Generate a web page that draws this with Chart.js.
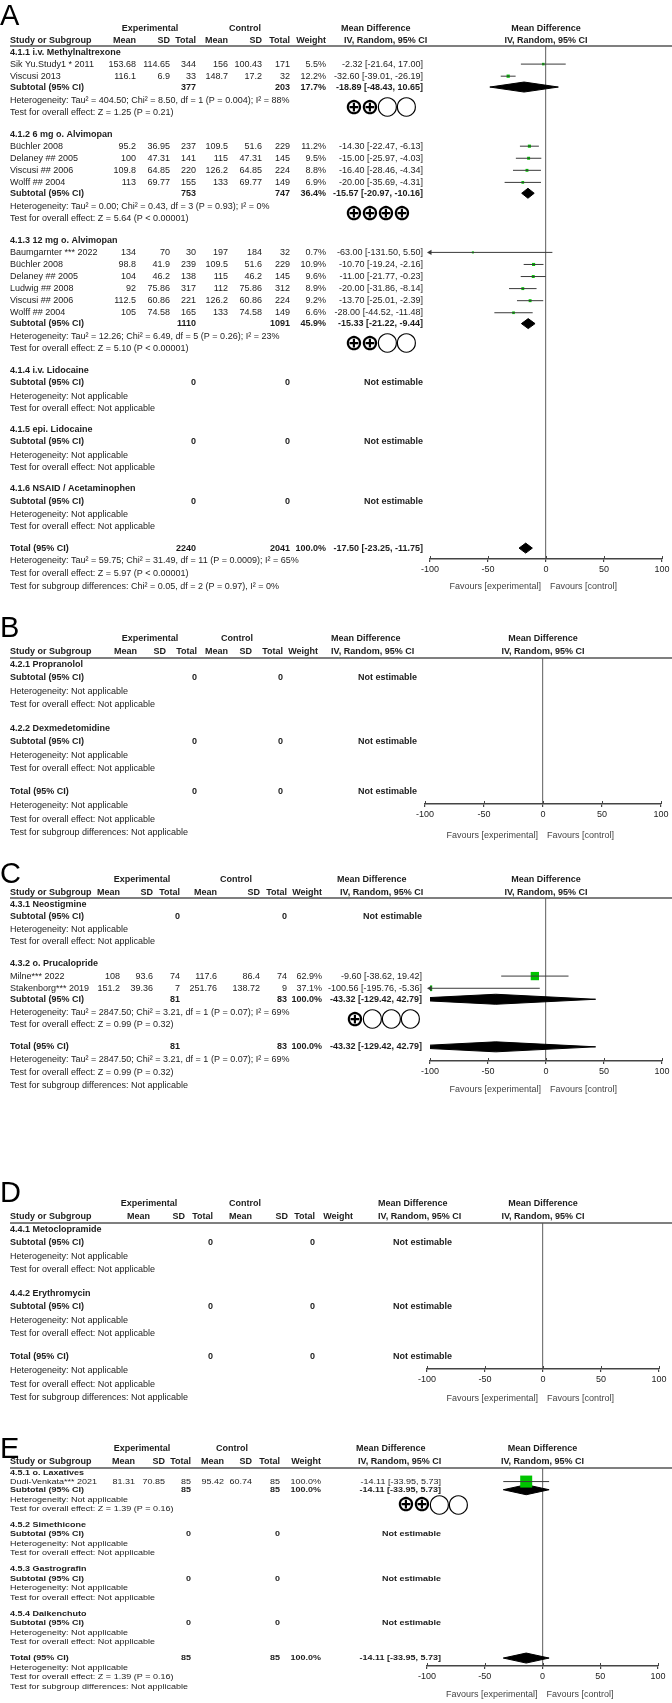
<!DOCTYPE html>
<html>
<head>
<meta charset="utf-8">
<script src="https://cdn.jsdelivr.net/npm/chart.js@4.4.1/dist/chart.umd.min.js"></script>
<style>
  body { margin: 0; background: #fff; }
  #page { position: relative; width: 672px; height: 1703px; overflow: hidden; }
  #page canvas { position: absolute; left: 0; }
</style>
</head>
<body>
<div id="page"></div>
<script>
// axis of every forest plot
const xTicks = [-100, -50, 0, 50, 100];
const favours = ['Favours [experimental]', 'Favours [control]'];
const colHeads = ['Mean', 'SD', 'Total', 'Mean', 'SD', 'Total', 'Weight'];
const panelIds = ['A', 'B', 'C', 'D', 'E'];

// subgroups
const groupPanel = ['A', 'A', 'A', 'A', 'A', 'A', 'B', 'B', 'C', 'C', 'D', 'D', 'E', 'E', 'E', 'E'];
const groupName = ['4.1.1 i.v. Methylnaltrexone', '4.1.2 6 mg o. Alvimopan', '4.1.3 12 mg o. Alvimopan',
  '4.1.4 i.v. Lidocaine', '4.1.5 epi. Lidocaine', '4.1.6 NSAID / Acetaminophen',
  '4.2.1 Propranolol', '4.2.2 Dexmedetomidine', '4.3.1 Neostigmine', '4.3.2 o. Prucalopride',
  '4.4.1 Metoclopramide', '4.4.2 Erythromycin', '4.5.1 o. Laxatives', '4.5.2 Simethicone',
  '4.5.3 Gastrografin', '4.5.4 Daikenchuto'];
const groupExpN = [377, 753, 1110, 0, 0, 0, 0, 0, 0, 81, 0, 0, 85, 0, 0, 0];
const groupCtlN = [203, 747, 1091, 0, 0, 0, 0, 0, 0, 83, 0, 0, 85, 0, 0, 0];
const groupWeight = [17.7, 36.4, 45.9, null, null, null, null, null, null, 100.0, null, null, 100.0, null, null, null];
const groupMD = [-18.89, -15.57, -15.33, null, null, null, null, null, null, -43.32, null, null, -14.11, null, null, null];
const groupLo = [-48.43, -20.97, -21.22, null, null, null, null, null, null, -129.42, null, null, -33.95, null, null, null];
const groupHi = [10.65, -10.16, -9.44, null, null, null, null, null, null, 42.79, null, null, 5.73, null, null, null];
const NA_HET = 'Heterogeneity: Not applicable';
const NA_EFF = 'Test for overall effect: Not applicable';
const groupHet = [
  'Heterogeneity: Tau² = 404.50; Chi² = 8.50, df = 1 (P = 0.004); I² = 88%',
  'Heterogeneity: Tau² = 0.00; Chi² = 0.43, df = 3 (P = 0.93); I² = 0%',
  'Heterogeneity: Tau² = 12.26; Chi² = 6.49, df = 5 (P = 0.26); I² = 23%',
  NA_HET, NA_HET, NA_HET, NA_HET, NA_HET, NA_HET,
  'Heterogeneity: Tau² = 2847.50; Chi² = 3.21, df = 1 (P = 0.07); I² = 69%',
  NA_HET, NA_HET, NA_HET, NA_HET, NA_HET, NA_HET];
const groupEffect = [
  'Test for overall effect: Z = 1.25 (P = 0.21)',
  'Test for overall effect: Z = 5.64 (P < 0.00001)',
  'Test for overall effect: Z = 5.10 (P < 0.00001)',
  NA_EFF, NA_EFF, NA_EFF, NA_EFF, NA_EFF, NA_EFF,
  'Test for overall effect: Z = 0.99 (P = 0.32)',
  NA_EFF, NA_EFF,
  'Test for overall effect: Z = 1.39 (P = 0.16)',
  NA_EFF, NA_EFF, NA_EFF];
const groupGrade = ['⊕⊕◯◯', '⊕⊕⊕⊕', '⊕⊕◯◯', '', '', '', '', '', '', '⊕◯◯◯', '', '', '⊕⊕◯◯', '', '', ''];

// studies
const studyGroup = [0, 0, 1, 1, 1, 1, 2, 2, 2, 2, 2, 2, 9, 9, 12];
const studyName = ['Sik Yu.Study1 * 2011', 'Viscusi 2013', 'Büchler 2008', 'Delaney ## 2005', 'Viscusi ## 2006',
  'Wolff ## 2004', 'Baumgarnter *** 2022', 'Büchler 2008', 'Delaney ## 2005', 'Ludwig ## 2008',
  'Viscusi ## 2006', 'Wolff ## 2004', 'Milne*** 2022', 'Stakenborg*** 2019', 'Dudi-Venkata*** 2021'];
const expMean = [153.68, 116.1, 95.2, 100, 109.8, 113, 134, 98.8, 104, 92, 112.5, 105, 108, 151.2, 81.31];
const expSD = [114.65, 6.9, 36.95, 47.31, 64.85, 69.77, 70, 41.9, 46.2, 75.86, 60.86, 74.58, 93.6, 39.36, 70.85];
const expN = [344, 33, 237, 141, 220, 155, 30, 239, 138, 317, 221, 165, 74, 7, 85];
const ctlMean = [156, 148.7, 109.5, 115, 126.2, 133, 197, 109.5, 115, 112, 126.2, 133, 117.6, 251.76, 95.42];
const ctlSD = [100.43, 17.2, 51.6, 47.31, 64.85, 69.77, 184, 51.6, 46.2, 75.86, 60.86, 74.58, 86.4, 138.72, 60.74];
const ctlN = [171, 32, 229, 145, 224, 149, 32, 229, 145, 312, 224, 149, 74, 9, 85];
const studyWeight = [5.5, 12.2, 11.2, 9.5, 8.8, 6.9, 0.7, 10.9, 9.6, 8.9, 9.2, 6.6, 62.9, 37.1, 100.0];
const studyMD = [-2.32, -32.60, -14.30, -15.00, -16.40, -20.00, -63.00, -10.70, -11.00, -20.00, -13.70, -28.00, -9.60, -100.56, -14.11];
const studyLo = [-21.64, -39.01, -22.47, -25.97, -28.46, -35.69, -131.50, -19.24, -21.77, -31.86, -25.01, -44.52, -38.62, -195.76, -33.95];
const studyHi = [17.00, -26.19, -6.13, -4.03, -4.34, -4.31, 5.50, -2.16, -0.23, -8.14, -2.39, -11.48, 19.42, -5.36, 5.73];

// overall totals, one per panel
const totalExpN = [2240, 0, 81, 0, 85];
const totalCtlN = [2041, 0, 83, 0, 85];
const totalWeight = [100.0, null, 100.0, null, 100.0];
const totalMD = [-17.50, null, -43.32, null, -14.11];
const totalLo = [-23.25, null, -129.42, null, -33.95];
const totalHi = [-11.75, null, 42.79, null, 5.73];
const totalHet = ['Heterogeneity: Tau² = 59.75; Chi² = 31.49, df = 11 (P = 0.0009); I² = 65%', NA_HET,
  'Heterogeneity: Tau² = 2847.50; Chi² = 3.21, df = 1 (P = 0.07); I² = 69%', NA_HET, NA_HET];
const totalEffect = ['Test for overall effect: Z = 5.97 (P < 0.00001)', NA_EFF,
  'Test for overall effect: Z = 0.99 (P = 0.32)', NA_EFF, 'Test for overall effect: Z = 1.39 (P = 0.16)'];
const subgroupTest = ['Test for subgroup differences: Chi² = 0.05, df = 2 (P = 0.97), I² = 0%',
  'Test for subgroup differences: Not applicable', 'Test for subgroup differences: Not applicable',
  'Test for subgroup differences: Not applicable', 'Test for subgroup differences: Not applicable'];

// page geometry of each panel (page pixels); sy squashes row text where rows are tight
const layout = {
  A: {top: 0, h: 600, letter: 25, exp: 29, head: 41, line: 46, axis: 559, fav: 587, unit: 12.07, sy: 1,
      cols: [136, 170, 196, 228, 262, 290, 326], expX: 150, ctlX: 245, ciRight: 423, mdX: 341, ivX: 344,
      x0: 430, x1: 662, gradeX: 346},
  B: {top: 600, h: 250, letter: 637, exp: 639, head: 652, line: 658, axis: 804, fav: 836, unit: 13.0, sy: 1,
      cols: [137, 166, 197, 228, 252, 283, 318], expX: 150, ctlX: 237, ciRight: 417, mdX: 331, ivX: 331,
      x0: 425, x1: 661, gradeX: 346},
  C: {top: 850, h: 300, letter: 883, exp: 880, head: 893, line: 898, axis: 1061, fav: 1090, unit: 12.2, sy: 1,
      cols: [120, 153, 180, 217, 260, 287, 322], expX: 142, ctlX: 236, ciRight: 422, mdX: 337, ivX: 340,
      x0: 430, x1: 662, gradeX: 347},
  D: {top: 1150, h: 260, letter: 1202, exp: 1204, head: 1217, line: 1223, axis: 1369, fav: 1399, unit: 13.0, sy: 1,
      cols: [150, 185, 213, 252, 288, 315, 353], expX: 149, ctlX: 245, ciRight: 452, mdX: 378, ivX: 378,
      x0: 427, x1: 659, gradeX: 380},
  E: {top: 1410, h: 293, letter: 1458, exp: 1449, head: 1462, line: 1468, axis: 1666, fav: 1695, unit: 9.05, sy: 0.85,
      cols: [135, 165, 191, 224, 252, 280, 321], expX: 142, ctlX: 232, ciRight: 441, mdX: 356, ivX: 358,
      x0: 427, x1: 658, gradeX: 398}
};

const FONT = '"Liberation Sans", Arial, Helvetica, sans-serif';
const INK = '#1c1c1c';

function ciText(md, lo, hi) {
  return md.toFixed(2) + ' [' + lo.toFixed(2) + ', ' + hi.toFixed(2) + ']';
}

// row positions in line units, walking down the table
function buildRows(pid) {
  const rows = [];
  let y = 0.5;
  const groups = groupPanel.map((p, i) => p === pid ? i : -1).filter(i => i >= 0);
  groups.forEach((g, k) => {
    if (k > 0) y += 1.8;
    rows.push({kind: 'group', g: g, y: y});
    const studies = studyGroup.map((sg, i) => sg === g ? i : -1).filter(i => i >= 0);
    studies.forEach(s => { y += 1; rows.push({kind: 'study', s: s, y: y}); });
    y += studies.length ? 0.9 : 1;
    rows.push({kind: 'subtotal', g: g, y: y});
    y += 1.1;
    rows.push({kind: 'note', text: groupHet[g], y: y});
    if (groupGrade[g]) rows.push({kind: 'grade', text: groupGrade[g], y: y + 0.55});
    y += 1;
    rows.push({kind: 'note', text: groupEffect[g], y: y});
  });
  y += 1.8;
  const p = panelIds.indexOf(pid);
  rows.push({kind: 'total', p: p, y: y});
  rows.push({kind: 'note', text: totalHet[p], y: y + 1.05});
  rows.push({kind: 'note', text: totalEffect[p], y: y + 2.1});
  rows.push({kind: 'note', text: subgroupTest[p], y: y + 3.15});
  return rows;
}

let squash = 1;
function txt(ctx, s, x, y, align, bold, size) {
  ctx.font = (bold ? 'bold ' : '') + (size || 9) + 'px ' + FONT;
  ctx.textAlign = align || 'left';
  if (squash === 1) { ctx.fillText(s, x, y); return; }
  ctx.save();
  ctx.translate(x, y);
  ctx.scale(1, squash);
  ctx.fillText(s, 0, 0);
  ctx.restore();
}

function tablePlugin(pid, rows) {
  return {
    id: 'table' + pid,
    afterDraw(chart) {
      const L = layout[pid];
      const ctx = chart.ctx;
      const ys = chart.scales.y, xs = chart.scales.x;
      const off = L.top;
      const zero = xs.getPixelForValue(0);
      const top = chart.chartArea.top, bottom = chart.chartArea.bottom;
      squash = 1;
      ctx.save();
      ctx.fillStyle = '#000';
      ctx.textBaseline = 'alphabetic';
      txt(ctx, pid, 0, L.letter - off, 'left', false, 29);

      ctx.fillStyle = INK;
      ctx.textBaseline = 'middle';
      txt(ctx, 'Experimental', L.expX, L.exp - off, 'center', true);
      txt(ctx, 'Control', L.ctlX, L.exp - off, 'center', true);
      txt(ctx, 'Mean Difference', L.mdX, L.exp - off, 'left', true);
      txt(ctx, 'IV, Random, 95% CI', L.ivX, L.head - off, 'left', true);
      txt(ctx, 'Mean Difference', zero, L.exp - off, 'center', true);
      txt(ctx, 'IV, Random, 95% CI', zero, L.head - off, 'center', true);
      txt(ctx, 'Study or Subgroup', 10, L.head - off, 'left', true);
      colHeads.forEach((h, i) => txt(ctx, h, L.cols[i], L.head - off, 'right', true));

      // rule under the header
      ctx.strokeStyle = '#555';
      ctx.lineWidth = 1.5;
      ctx.beginPath();
      ctx.moveTo(10, top);
      ctx.lineTo(672, top);
      ctx.stroke();

      // tick marks also reach a little above the axis
      ctx.strokeStyle = '#444';
      ctx.lineWidth = 1;
      ctx.beginPath();
      xTicks.forEach(v => {
        const px = Math.round(xs.getPixelForValue(v)) + 0.5;
        ctx.moveTo(px, bottom - 3);
        ctx.lineTo(px, bottom);
      });
      ctx.stroke();

      squash = L.sy;
      rows.forEach(r => {
        const y = ys.getPixelForValue(r.y);
        if (r.kind === 'group') {
          txt(ctx, groupName[r.g], 10, y, 'left', true);
        } else if (r.kind === 'study') {
          const s = r.s;
          txt(ctx, studyName[s], 10, y);
          const vals = [expMean[s], expSD[s], expN[s], ctlMean[s], ctlSD[s], ctlN[s]];
          vals.forEach((v, i) => txt(ctx, String(v), L.cols[i], y, 'right'));
          txt(ctx, studyWeight[s].toFixed(1) + '%', L.cols[6], y, 'right');
          txt(ctx, ciText(studyMD[s], studyLo[s], studyHi[s]), L.ciRight, y, 'right');
        } else if (r.kind === 'subtotal' || r.kind === 'total') {
          const isT = r.kind === 'total';
          const i = isT ? r.p : r.g;
          txt(ctx, isT ? 'Total (95% CI)' : 'Subtotal (95% CI)', 10, y, 'left', true);
          txt(ctx, String(isT ? totalExpN[i] : groupExpN[i]), L.cols[2], y, 'right', true);
          txt(ctx, String(isT ? totalCtlN[i] : groupCtlN[i]), L.cols[5], y, 'right', true);
          const md = isT ? totalMD[i] : groupMD[i];
          if (md == null) {
            txt(ctx, 'Not estimable', L.ciRight, y, 'right', true);
          } else {
            const w = isT ? totalWeight[i] : groupWeight[i];
            txt(ctx, w.toFixed(1) + '%', L.cols[6], y, 'right', true);
            txt(ctx, ciText(md, isT ? totalLo[i] : groupLo[i], isT ? totalHi[i] : groupHi[i]), L.ciRight, y, 'right', true);
          }
        } else if (r.kind === 'note') {
          txt(ctx, r.text, 10, y);
        } else if (r.kind === 'grade') {
          ctx.fillStyle = '#000';
          let x = L.gradeX;
          for (const ch of r.text) {
            const plus = ch === '⊕';
            const w = plus ? 16 : 19;
            ctx.font = (plus ? 'bold 22px' : '19px') + ' "DejaVu Sans", sans-serif';
            ctx.textAlign = 'center';
            ctx.fillText(ch, x + w / 2, y + (plus ? 1 : 0));
            x += w;
          }
          ctx.fillStyle = INK;
        }
      });

      squash = 1;
      ctx.fillStyle = '#444';
      txt(ctx, favours[0], zero - 5, L.fav - off, 'right');
      txt(ctx, favours[1], zero + 4, L.fav - off, 'left');
      ctx.restore();
    }
  };
}

function makeChart(pid) {
  const L = layout[pid];
  const rows = buildRows(pid);
  const canvas = document.createElement('canvas');
  canvas.width = 672;
  canvas.height = L.h;
  canvas.style.top = L.top + 'px';
  document.getElementById('page').appendChild(canvas);

  const studies = rows.filter(r => r.kind === 'study');
  const datasets = [];
  // confidence intervals
  studies.forEach(r => {
    datasets.push({
      type: 'line', showLine: true,
      data: [{x: studyLo[r.s], y: r.y}, {x: studyHi[r.s], y: r.y}],
      borderColor: '#3a3a3a', borderWidth: 1, pointRadius: 0, clip: 0
    });
  });
  // arrows where the interval runs past the axis
  datasets.push({
    type: 'scatter',
    data: studies.filter(r => studyLo[r.s] < xTicks[0]).map(r => ({x: xTicks[0], y: r.y})),
    pointStyle: 'triangle', rotation: -90, pointRadius: 3,
    backgroundColor: '#3a3a3a', borderWidth: 0, clip: false
  });
  // study squares, sized by weight
  datasets.push({
    type: 'scatter',
    data: studies.map(r => ({x: studyMD[r.s], y: r.y})),
    pointStyle: 'rect',
    pointRadius: studies.map(r => (2 + studyWeight[r.s] / 10) / (2 * Math.SQRT1_2)),
    backgroundColor: '#00c400', borderWidth: 0, clip: 0
  });
  // pooled diamonds, about 10 px tall
  const hh = 5 / L.unit;
  rows.forEach(r => {
    let md = null, lo, hi;
    if (r.kind === 'subtotal' && groupMD[r.g] != null) { md = groupMD[r.g]; lo = groupLo[r.g]; hi = groupHi[r.g]; }
    if (r.kind === 'total' && totalMD[r.p] != null) { md = totalMD[r.p]; lo = totalLo[r.p]; hi = totalHi[r.p]; }
    if (md == null) return;
    datasets.push({
      type: 'line', showLine: true,
      data: [{x: lo, y: r.y}, {x: md, y: r.y - hh}, {x: hi, y: r.y}, {x: md, y: r.y + hh}, {x: lo, y: r.y}],
      borderColor: '#000', backgroundColor: '#000', borderWidth: 1, pointRadius: 0,
      fill: 'shape', tension: 0, clip: 0
    });
  });

  new Chart(canvas.getContext('2d'), {
    type: 'scatter',
    data: {datasets: datasets},
    options: {
      responsive: false,
      animation: false,
      devicePixelRatio: 1,
      layout: {padding: {top: L.line - L.top, left: L.x0, right: 672 - L.x1, bottom: L.h - (L.axis - L.top) - 20}},
      plugins: {legend: {display: false}, tooltip: {enabled: false}},
      scales: {
        x: {
          type: 'linear', min: xTicks[0], max: xTicks[xTicks.length - 1],
          afterBuildTicks: s => { s.ticks = xTicks.map(v => ({value: v})); },
          afterFit: s => { s.height = 20; },
          ticks: {color: '#222', font: {family: FONT, size: 9}, padding: 2, maxRotation: 0, autoSkip: false},
          grid: {
            color: c => (c.tick && c.tick.value === 0) ? '#777' : 'rgba(0,0,0,0)',
            lineWidth: 1.2, tickLength: 3, tickColor: '#444', drawOnChartArea: true
          },
          border: {display: true, color: '#444', width: 1.5}
        },
        y: {type: 'linear', reverse: true, min: 0, max: (L.axis - L.line) / L.unit, display: false}
      }
    },
    plugins: [tablePlugin(pid, rows)]
  });
}

panelIds.forEach(makeChart);
</script>
</body>
</html>
